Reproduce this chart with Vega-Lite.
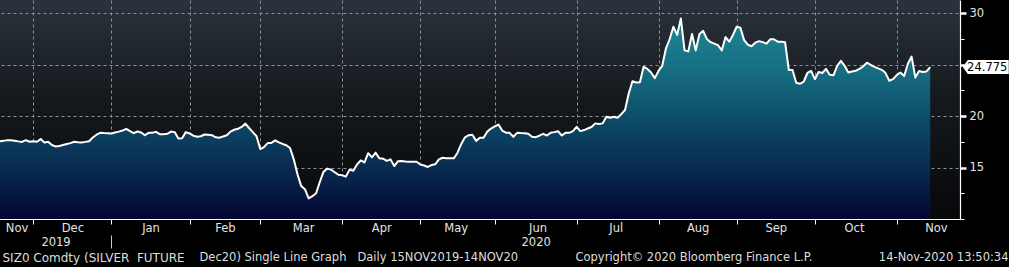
{
  "$schema": "https://vega.github.io/schema/vega-lite/v6.json",
  "width": 960,
  "height": 219,
  "autosize": {"type": "none"},
  "padding": {"left": 0, "top": 0, "right": 49, "bottom": 48},
  "background": "#000000",
  "view": {
    "stroke": null,
    "fill": {"gradient": "linear", "x1": 0, "y1": 0, "x2": 0, "y2": 1,
      "stops": [{"offset": 0, "color": "#2a333c"}, {"offset": 0.45, "color": "#15191d"}, {"offset": 1, "color": "#07080a"}]}
  },
  "config": {
    "font": "DejaVu Sans",
    "axis": {"labelFont": "DejaVu Sans", "titleFont": "DejaVu Sans", "labelFontSize": 11.5, "titleFontSize": 11.5, "titleFontWeight": "normal", "labelColor": "#e4e4e4", "titleColor": "#dedede", "labelAngle": 0}
  },
  "data": {"values": [
    {"date": "2019-11-15", "price": 17.57}, {"date": "2019-11-18", "price": 17.57}, {"date": "2019-11-19", "price": 17.6}, {"date": "2019-11-20", "price": 17.67}, {"date": "2019-11-21", "price": 17.67}, {"date": "2019-11-22", "price": 17.62}, {"date": "2019-11-25", "price": 17.55}, {"date": "2019-11-26", "price": 17.5}, {"date": "2019-11-27", "price": 17.67}, {"date": "2019-11-29", "price": 17.51},
    {"date": "2019-12-02", "price": 17.57}, {"date": "2019-12-03", "price": 17.51}, {"date": "2019-12-04", "price": 17.77}, {"date": "2019-12-05", "price": 17.44}, {"date": "2019-12-06", "price": 17.51}, {"date": "2019-12-09", "price": 17.2}, {"date": "2019-12-10", "price": 17.06}, {"date": "2019-12-11", "price": 17.1}, {"date": "2019-12-12", "price": 17.2}, {"date": "2019-12-13", "price": 17.3}, {"date": "2019-12-16", "price": 17.38}, {"date": "2019-12-17", "price": 17.51}, {"date": "2019-12-18", "price": 17.47}, {"date": "2019-12-19", "price": 17.44}, {"date": "2019-12-20", "price": 17.5}, {"date": "2019-12-23", "price": 17.57}, {"date": "2019-12-24", "price": 17.93}, {"date": "2019-12-26", "price": 18.2}, {"date": "2019-12-27", "price": 18.38}, {"date": "2019-12-30", "price": 18.36}, {"date": "2019-12-31", "price": 18.35},
    {"date": "2020-01-02", "price": 18.32}, {"date": "2020-01-03", "price": 18.42}, {"date": "2020-01-06", "price": 18.5}, {"date": "2020-01-07", "price": 18.6}, {"date": "2020-01-08", "price": 18.77}, {"date": "2020-01-09", "price": 18.55}, {"date": "2020-01-10", "price": 18.35}, {"date": "2020-01-13", "price": 18.51}, {"date": "2020-01-14", "price": 18.41}, {"date": "2020-01-15", "price": 18.15}, {"date": "2020-01-16", "price": 18.38}, {"date": "2020-01-17", "price": 18.38}, {"date": "2020-01-21", "price": 18.48}, {"date": "2020-01-22", "price": 18.25}, {"date": "2020-01-23", "price": 18.25}, {"date": "2020-01-24", "price": 18.28}, {"date": "2020-01-27", "price": 18.5}, {"date": "2020-01-28", "price": 18.45}, {"date": "2020-01-29", "price": 17.83}, {"date": "2020-01-30", "price": 17.85}, {"date": "2020-01-31", "price": 18.45},
    {"date": "2020-02-03", "price": 18.32}, {"date": "2020-02-04", "price": 18.1}, {"date": "2020-02-05", "price": 18.0}, {"date": "2020-02-06", "price": 18.05}, {"date": "2020-02-07", "price": 18.22}, {"date": "2020-02-10", "price": 18.2}, {"date": "2020-02-11", "price": 18.15}, {"date": "2020-02-12", "price": 17.95}, {"date": "2020-02-13", "price": 17.9}, {"date": "2020-02-14", "price": 18.02}, {"date": "2020-02-18", "price": 18.15}, {"date": "2020-02-19", "price": 18.5}, {"date": "2020-02-20", "price": 18.68}, {"date": "2020-02-21", "price": 18.77}, {"date": "2020-02-24", "price": 18.95}, {"date": "2020-02-25", "price": 19.28}, {"date": "2020-02-26", "price": 18.85}, {"date": "2020-02-27", "price": 18.45}, {"date": "2020-02-28", "price": 18.05},
    {"date": "2020-03-02", "price": 16.8}, {"date": "2020-03-03", "price": 17.0}, {"date": "2020-03-04", "price": 17.38}, {"date": "2020-03-05", "price": 17.4}, {"date": "2020-03-06", "price": 17.64}, {"date": "2020-03-09", "price": 17.45}, {"date": "2020-03-10", "price": 17.3}, {"date": "2020-03-11", "price": 17.18}, {"date": "2020-03-12", "price": 16.9}, {"date": "2020-03-13", "price": 15.8}, {"date": "2020-03-16", "price": 14.35}, {"date": "2020-03-17", "price": 13.2}, {"date": "2020-03-18", "price": 12.9}, {"date": "2020-03-19", "price": 12.0}, {"date": "2020-03-20", "price": 12.22}, {"date": "2020-03-23", "price": 12.5}, {"date": "2020-03-24", "price": 13.6}, {"date": "2020-03-25", "price": 14.6}, {"date": "2020-03-26", "price": 14.9}, {"date": "2020-03-27", "price": 14.8}, {"date": "2020-03-30", "price": 14.55}, {"date": "2020-03-31", "price": 14.3},
    {"date": "2020-04-01", "price": 14.25}, {"date": "2020-04-02", "price": 14.12}, {"date": "2020-04-03", "price": 14.8}, {"date": "2020-04-06", "price": 14.7}, {"date": "2020-04-07", "price": 15.3}, {"date": "2020-04-08", "price": 15.7}, {"date": "2020-04-09", "price": 15.5}, {"date": "2020-04-13", "price": 16.4}, {"date": "2020-04-14", "price": 16.0}, {"date": "2020-04-15", "price": 16.45}, {"date": "2020-04-16", "price": 15.9}, {"date": "2020-04-17", "price": 15.87}, {"date": "2020-04-20", "price": 15.65}, {"date": "2020-04-21", "price": 15.8}, {"date": "2020-04-22", "price": 15.15}, {"date": "2020-04-23", "price": 15.62}, {"date": "2020-04-24", "price": 15.64}, {"date": "2020-04-27", "price": 15.6}, {"date": "2020-04-28", "price": 15.57}, {"date": "2020-04-29", "price": 15.57}, {"date": "2020-04-30", "price": 15.57},
    {"date": "2020-05-01", "price": 15.3}, {"date": "2020-05-04", "price": 15.2}, {"date": "2020-05-05", "price": 15.06}, {"date": "2020-05-06", "price": 15.25}, {"date": "2020-05-07", "price": 15.32}, {"date": "2020-05-08", "price": 15.8}, {"date": "2020-05-11", "price": 15.96}, {"date": "2020-05-12", "price": 15.92}, {"date": "2020-05-13", "price": 15.9}, {"date": "2020-05-14", "price": 15.9}, {"date": "2020-05-15", "price": 16.45}, {"date": "2020-05-18", "price": 17.3}, {"date": "2020-05-19", "price": 17.95}, {"date": "2020-05-20", "price": 18.15}, {"date": "2020-05-21", "price": 18.2}, {"date": "2020-05-22", "price": 17.6}, {"date": "2020-05-26", "price": 17.9}, {"date": "2020-05-27", "price": 17.9}, {"date": "2020-05-28", "price": 18.5}, {"date": "2020-05-29", "price": 18.8},
    {"date": "2020-06-01", "price": 19.0}, {"date": "2020-06-02", "price": 19.19}, {"date": "2020-06-03", "price": 18.6}, {"date": "2020-06-04", "price": 18.4}, {"date": "2020-06-05", "price": 18.38}, {"date": "2020-06-08", "price": 18.0}, {"date": "2020-06-09", "price": 18.38}, {"date": "2020-06-10", "price": 18.36}, {"date": "2020-06-11", "price": 18.35}, {"date": "2020-06-12", "price": 18.3}, {"date": "2020-06-15", "price": 18.0}, {"date": "2020-06-16", "price": 17.96}, {"date": "2020-06-17", "price": 18.1}, {"date": "2020-06-18", "price": 18.28}, {"date": "2020-06-19", "price": 18.12}, {"date": "2020-06-22", "price": 18.38}, {"date": "2020-06-23", "price": 18.45}, {"date": "2020-06-24", "price": 18.54}, {"date": "2020-06-25", "price": 18.12}, {"date": "2020-06-26", "price": 18.38}, {"date": "2020-06-29", "price": 18.38}, {"date": "2020-06-30", "price": 18.54},
    {"date": "2020-07-01", "price": 18.96}, {"date": "2020-07-02", "price": 18.55}, {"date": "2020-07-06", "price": 18.65}, {"date": "2020-07-07", "price": 18.8}, {"date": "2020-07-08", "price": 18.95}, {"date": "2020-07-09", "price": 19.3}, {"date": "2020-07-10", "price": 19.25}, {"date": "2020-07-13", "price": 19.3}, {"date": "2020-07-14", "price": 19.95}, {"date": "2020-07-15", "price": 19.84}, {"date": "2020-07-16", "price": 19.95}, {"date": "2020-07-17", "price": 19.84}, {"date": "2020-07-20", "price": 20.2}, {"date": "2020-07-21", "price": 20.6}, {"date": "2020-07-22", "price": 22.2}, {"date": "2020-07-23", "price": 23.4}, {"date": "2020-07-24", "price": 23.28}, {"date": "2020-07-27", "price": 23.3}, {"date": "2020-07-28", "price": 24.8}, {"date": "2020-07-29", "price": 24.6}, {"date": "2020-07-30", "price": 24.25}, {"date": "2020-07-31", "price": 23.7},
    {"date": "2020-08-03", "price": 24.4}, {"date": "2020-08-04", "price": 24.9}, {"date": "2020-08-05", "price": 26.6}, {"date": "2020-08-06", "price": 27.5}, {"date": "2020-08-07", "price": 28.7}, {"date": "2020-08-10", "price": 27.9}, {"date": "2020-08-11", "price": 29.5}, {"date": "2020-08-12", "price": 26.4}, {"date": "2020-08-13", "price": 26.3}, {"date": "2020-08-14", "price": 28.0}, {"date": "2020-08-17", "price": 26.4}, {"date": "2020-08-18", "price": 28.0}, {"date": "2020-08-19", "price": 28.3}, {"date": "2020-08-20", "price": 27.5}, {"date": "2020-08-21", "price": 27.2}, {"date": "2020-08-24", "price": 27.05}, {"date": "2020-08-25", "price": 26.9}, {"date": "2020-08-26", "price": 26.4}, {"date": "2020-08-27", "price": 27.7}, {"date": "2020-08-28", "price": 27.25}, {"date": "2020-08-31", "price": 27.9},
    {"date": "2020-09-01", "price": 28.7}, {"date": "2020-09-02", "price": 28.6}, {"date": "2020-09-03", "price": 27.4}, {"date": "2020-09-04", "price": 26.95}, {"date": "2020-09-08", "price": 26.8}, {"date": "2020-09-09", "price": 27.15}, {"date": "2020-09-10", "price": 27.3}, {"date": "2020-09-11", "price": 27.2}, {"date": "2020-09-14", "price": 27.05}, {"date": "2020-09-15", "price": 27.48}, {"date": "2020-09-16", "price": 27.48}, {"date": "2020-09-17", "price": 27.25}, {"date": "2020-09-18", "price": 27.25}, {"date": "2020-09-21", "price": 27.2}, {"date": "2020-09-22", "price": 24.5}, {"date": "2020-09-23", "price": 24.5}, {"date": "2020-09-24", "price": 23.25}, {"date": "2020-09-25", "price": 23.15}, {"date": "2020-09-28", "price": 23.35}, {"date": "2020-09-29", "price": 24.2}, {"date": "2020-09-30", "price": 24.4},
    {"date": "2020-10-01", "price": 23.6}, {"date": "2020-10-02", "price": 24.3}, {"date": "2020-10-05", "price": 24.2}, {"date": "2020-10-06", "price": 24.6}, {"date": "2020-10-07", "price": 24.03}, {"date": "2020-10-08", "price": 23.98}, {"date": "2020-10-09", "price": 24.9}, {"date": "2020-10-12", "price": 25.38}, {"date": "2020-10-13", "price": 24.9}, {"date": "2020-10-14", "price": 24.25}, {"date": "2020-10-15", "price": 24.35}, {"date": "2020-10-16", "price": 24.42}, {"date": "2020-10-19", "price": 24.6}, {"date": "2020-10-20", "price": 24.85}, {"date": "2020-10-21", "price": 25.2}, {"date": "2020-10-22", "price": 25.0}, {"date": "2020-10-23", "price": 24.8}, {"date": "2020-10-26", "price": 24.65}, {"date": "2020-10-27", "price": 24.51}, {"date": "2020-10-28", "price": 24.19}, {"date": "2020-10-29", "price": 23.45}, {"date": "2020-10-30", "price": 23.6},
    {"date": "2020-11-02", "price": 24.0}, {"date": "2020-11-03", "price": 24.25}, {"date": "2020-11-04", "price": 23.9}, {"date": "2020-11-05", "price": 25.1}, {"date": "2020-11-06", "price": 25.8}, {"date": "2020-11-09", "price": 23.75}, {"date": "2020-11-10", "price": 24.4}, {"date": "2020-11-11", "price": 24.3}, {"date": "2020-11-12", "price": 24.35}, {"date": "2020-11-13", "price": 24.775}
  ]},
  "resolve": {"axis": {"x": "independent", "y": "independent"}},
  "layer": [
    {
      "mark": {"type": "area", "color": {"gradient": "linear", "x1": 0, "y1": 0, "x2": 0, "y2": 1,
        "stops": [{"offset": 0, "color": "#1e8797"}, {"offset": 0.25, "color": "#166f83"}, {"offset": 0.48, "color": "#0e4e6a"}, {"offset": 0.62, "color": "#0b3b5d"}, {"offset": 0.77, "color": "#08284d"}, {"offset": 1, "color": "#040632"}]}},
      "encoding": {
        "x": {"field": "date", "type": "ordinal",
          "scale": {"type": "point", "padding": 0, "range": [-4, 960],
            "domain": ["2019-11-15","2019-11-18","2019-11-19","2019-11-20","2019-11-21","2019-11-22","2019-11-25","2019-11-26","2019-11-27","2019-11-29","2019-12-02","2019-12-03","2019-12-04","2019-12-05","2019-12-06","2019-12-09","2019-12-10","2019-12-11","2019-12-12","2019-12-13","2019-12-16","2019-12-17","2019-12-18","2019-12-19","2019-12-20","2019-12-23","2019-12-24","2019-12-26","2019-12-27","2019-12-30","2019-12-31","2020-01-02","2020-01-03","2020-01-06","2020-01-07","2020-01-08","2020-01-09","2020-01-10","2020-01-13","2020-01-14","2020-01-15","2020-01-16","2020-01-17","2020-01-21","2020-01-22","2020-01-23","2020-01-24","2020-01-27","2020-01-28","2020-01-29","2020-01-30","2020-01-31","2020-02-03","2020-02-04","2020-02-05","2020-02-06","2020-02-07","2020-02-10","2020-02-11","2020-02-12","2020-02-13","2020-02-14","2020-02-18","2020-02-19","2020-02-20","2020-02-21","2020-02-24","2020-02-25","2020-02-26","2020-02-27","2020-02-28","2020-03-02","2020-03-03","2020-03-04","2020-03-05","2020-03-06","2020-03-09","2020-03-10","2020-03-11","2020-03-12","2020-03-13","2020-03-16","2020-03-17","2020-03-18","2020-03-19","2020-03-20","2020-03-23","2020-03-24","2020-03-25","2020-03-26","2020-03-27","2020-03-30","2020-03-31","2020-04-01","2020-04-02","2020-04-03","2020-04-06","2020-04-07","2020-04-08","2020-04-09","2020-04-13","2020-04-14","2020-04-15","2020-04-16","2020-04-17","2020-04-20","2020-04-21","2020-04-22","2020-04-23","2020-04-24","2020-04-27","2020-04-28","2020-04-29","2020-04-30","2020-05-01","2020-05-04","2020-05-05","2020-05-06","2020-05-07","2020-05-08","2020-05-11","2020-05-12","2020-05-13","2020-05-14","2020-05-15","2020-05-18","2020-05-19","2020-05-20","2020-05-21","2020-05-22","2020-05-26","2020-05-27","2020-05-28","2020-05-29","2020-06-01","2020-06-02","2020-06-03","2020-06-04","2020-06-05","2020-06-08","2020-06-09","2020-06-10","2020-06-11","2020-06-12","2020-06-15","2020-06-16","2020-06-17","2020-06-18","2020-06-19","2020-06-22","2020-06-23","2020-06-24","2020-06-25","2020-06-26","2020-06-29","2020-06-30","2020-07-01","2020-07-02","2020-07-06","2020-07-07","2020-07-08","2020-07-09","2020-07-10","2020-07-13","2020-07-14","2020-07-15","2020-07-16","2020-07-17","2020-07-20","2020-07-21","2020-07-22","2020-07-23","2020-07-24","2020-07-27","2020-07-28","2020-07-29","2020-07-30","2020-07-31","2020-08-03","2020-08-04","2020-08-05","2020-08-06","2020-08-07","2020-08-10","2020-08-11","2020-08-12","2020-08-13","2020-08-14","2020-08-17","2020-08-18","2020-08-19","2020-08-20","2020-08-21","2020-08-24","2020-08-25","2020-08-26","2020-08-27","2020-08-28","2020-08-31","2020-09-01","2020-09-02","2020-09-03","2020-09-04","2020-09-08","2020-09-09","2020-09-10","2020-09-11","2020-09-14","2020-09-15","2020-09-16","2020-09-17","2020-09-18","2020-09-21","2020-09-22","2020-09-23","2020-09-24","2020-09-25","2020-09-28","2020-09-29","2020-09-30","2020-10-01","2020-10-02","2020-10-05","2020-10-06","2020-10-07","2020-10-08","2020-10-09","2020-10-12","2020-10-13","2020-10-14","2020-10-15","2020-10-16","2020-10-19","2020-10-20","2020-10-21","2020-10-22","2020-10-23","2020-10-26","2020-10-27","2020-10-28","2020-10-29","2020-10-30","2020-11-02","2020-11-03","2020-11-04","2020-11-05","2020-11-06","2020-11-09","2020-11-10","2020-11-11","2020-11-12","2020-11-13","2020-11-16","2020-11-17","2020-11-18","2020-11-19","2020-11-20","2020-11-23","2020-11-24","2020-11-25"]},
          "axis": {"orient": "bottom", "values": ["2019-12-02","2020-01-02","2020-02-03","2020-03-02","2020-04-01","2020-05-01","2020-06-01","2020-07-01","2020-08-03","2020-09-01","2020-10-01","2020-11-02"],
            "labels": false, "ticks": true, "tickSize": 5, "tickColor": "#ffffff", "tickWidth": 1,
            "domain": true, "domainColor": "#ffffff", "domainWidth": 1.2,
            "grid": true, "gridColor": "#8a9096", "gridDash": [3, 3], "gridWidth": 1,
            "title": "SIZ0 Comdty (SILVER\u00a0\u00a0FUTURE", "titleFontSize": 12, "titleX": 2, "titleY": 38, "titleAlign": "left", "titleBaseline": "middle", "titleAnchor": "start"}},
        "y": {"field": "price", "type": "quantitative",
          "scale": {"domain": [10, 31.3], "nice": false, "zero": false},
          "axis": {"orient": "right", "values": [10, 12.5, 15, 17.5, 20, 22.5, 25, 27.5, 30],
            "labelExpr": "(datum.value % 5 === 0 && datum.value > 10 && datum.value !== 25) ? datum.label : ''",
            "labelPadding": 3, "labelOverlap": false, "labelFlush": false,
            "domain": true, "domainColor": "#ffffff", "domainWidth": 1.2,
            "tickColor": "#ffffff",
            "tickSize": {"condition": {"test": "datum.value % 5 === 0 && datum.value > 10", "value": 6}, "value": 4},
            "tickWidth": {"condition": {"test": "datum.value % 5 === 0 && datum.value > 10", "value": 2.5}, "value": 1},
            "grid": true, "gridColor": "#8a9096", "gridDash": [3, 3], "gridWidth": 1,
            "gridOpacity": {"condition": {"test": "datum.value % 5 === 0 && datum.value > 10", "value": 1}, "value": 0},
            "title": "14-Nov-2020 13:50:34", "titleAngle": 0, "titleX": 48, "titleY": 257, "titleAlign": "right", "titleBaseline": "middle", "titleAnchor": "start"}},
        "y2": {"datum": 10}
      }
    },
    {
      "mark": {"type": "line", "color": "#ffffff", "strokeWidth": 2, "strokeJoin": "round"},
      "encoding": {
        "x": {"field": "date", "type": "ordinal",
          "axis": {"orient": "bottom", "values": ["2019-11-22","2019-12-16","2020-01-16","2020-02-14","2020-03-17","2020-04-16","2020-05-14","2020-06-16","2020-07-16","2020-08-17","2020-09-16","2020-10-15","2020-11-16"],
            "labelExpr": "utcFormat(toDate(datum.value), '%b')", "labelAngle": 0, "labelAlign": "center", "labelBaseline": "top", "labelOffset": 1.9, "labelPadding": 3, "labelOverlap": false,
            "ticks": false, "tickSize": 0, "domain": false, "grid": false,
            "title": "Dec20) Single Line Graph\u00a0\u00a0\u00a0Daily 15NOV2019-14NOV20", "titleX": 199, "titleY": 38, "titleAlign": "left", "titleBaseline": "middle", "titleAnchor": "start"}},
        "y": {"field": "price", "type": "quantitative", "axis": null}
      }
    },
    {
      "transform": [{"filter": "datum.date === '2020-11-13'"}],
      "mark": {"type": "point", "shape": "M-1,0L-0.78,-0.304L1,-0.304L1,0.304L-0.78,0.304Z", "filled": true, "color": "#ffffff", "opacity": 1, "size": 2116, "xOffset": 55.5},
      "encoding": {
        "x": {"field": "date", "type": "ordinal",
          "axis": {"orient": "bottom", "offset": 16, "values": ["2019-12-10", "2020-01-02", "2020-06-16"],
            "labelExpr": "datum.value === '2019-12-10' ? '2019' : (datum.value === '2020-06-16' ? '2020' : '')",
            "labelAngle": 0, "labelAlign": "center", "labelBaseline": "middle", "labelPadding": -6, "labelOverlap": false,
            "ticks": true, "tickSize": 13, "tickColor": "#c8c8c8", "tickWidth": 1,
            "tickOpacity": {"condition": {"test": "datum.value === '2020-01-02'", "value": 1}, "value": 0},
            "domain": false, "grid": false,
            "title": "Copyright\u00a9 2020 Bloomberg Finance L.P.", "titleX": 575, "titleY": 22, "titleAlign": "left", "titleBaseline": "middle", "titleAnchor": "start"}},
        "y": {"field": "price", "type": "quantitative", "axis": null}
      }
    },
    {
      "transform": [{"filter": "datum.date === '2020-11-13'"}],
      "mark": {"type": "text", "color": "#000000", "fontSize": 11.5, "align": "center", "baseline": "middle", "dx": 57, "dy": 0.5},
      "encoding": {
        "x": {"field": "date", "type": "ordinal", "axis": null},
        "y": {"field": "price", "type": "quantitative", "axis": null},
        "text": {"field": "price", "type": "quantitative", "format": ".3f"}
      }
    }
  ]
}
